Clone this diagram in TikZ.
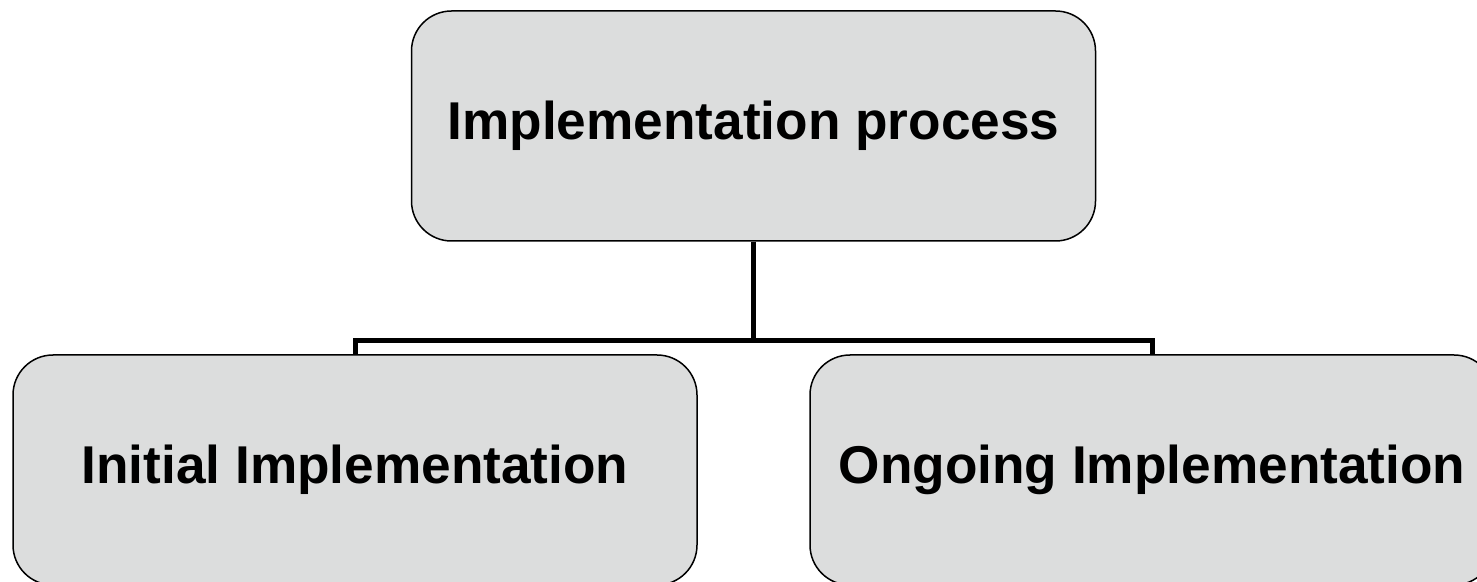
\documentclass[tikz,border=0pt]{standalone}
\usepackage{fontspec}
\setmainfont{Liberation Sans}
\definecolor{boxgray}{RGB}{220,221,221}

\begin{document}
\begin{tikzpicture}[level distance=172pt,
                    sibling distance=398.5pt,
                    edge from parent/.style={draw,black,line width=2.5pt},
                    edge from parent path={(\tikzparentnode.south) -- ++(0,-49.5pt) -| (\tikzchildnode.north)},
                    ]
    \tikzstyle{phase}=[draw,line width=0.75pt,fill=boxgray,rounded corners=20pt,
                       minimum width=342pt,minimum height=115pt,
                       font=\bfseries\fontsize{26.6}{32}\selectfont]

    \useasboundingbox (0,0) rectangle (738.5pt,-291pt);

    \node[phase] (impl) at (376.75pt,-63pt) {Implementation process}
            child { node[phase] (initial) {Initial Implementation}}
            child { node[phase] (ongoing) {Ongoing Implementation}}
        ;
\end{tikzpicture}
\end{document}
